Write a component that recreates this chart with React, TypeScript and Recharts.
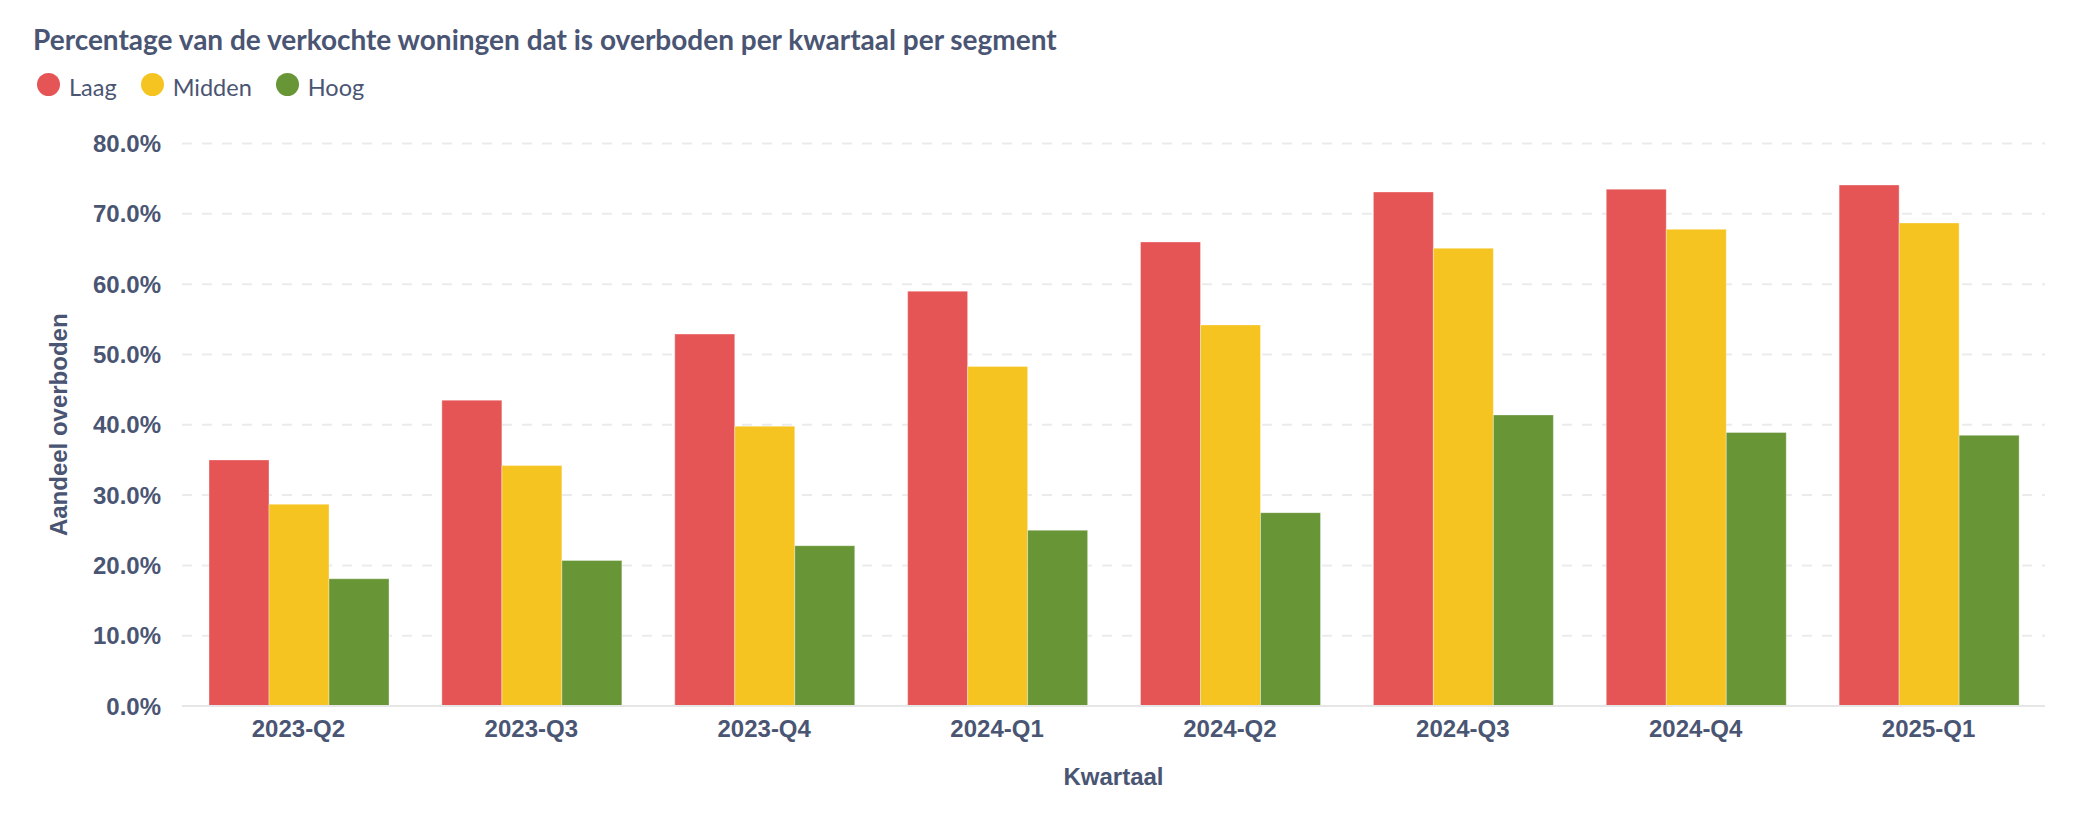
import { BarChart, Bar, XAxis, YAxis, CartesianGrid } from 'recharts';

const quarters = ['2023-Q2', '2023-Q3', '2023-Q4', '2024-Q1', '2024-Q2', '2024-Q3', '2024-Q4', '2025-Q1'];
const laag = [35.0, 43.5, 52.9, 59.0, 66.0, 73.1, 73.5, 74.1];
const midden = [28.7, 34.2, 39.8, 48.3, 54.2, 65.1, 67.8, 68.7];
const hoog = [18.1, 20.7, 22.8, 25.0, 27.5, 41.4, 38.9, 38.5];
const yTicks = [0, 10, 20, 30, 40, 50, 60, 70, 80];

const segments = [
  { key: 'laag', name: 'Laag', color: '#e65555' },
  { key: 'midden', name: 'Midden', color: '#f6c421' },
  { key: 'hoog', name: 'Hoog', color: '#689536' },
];

const textColor = '#4a5573';
const axisFont = '"Liberation Sans", Arial, sans-serif';

const data = quarters.map((q, i) => ({
  kwartaal: q,
  laag: laag[i],
  midden: midden[i],
  hoog: hoog[i],
}));

export default function App() {
  return (
    <div style={{ position: 'absolute', left: 0, top: 0, width: 2096, height: 816, background: '#fff' }}>
      {/* Title */}
      <div
        style={{
          position: 'absolute',
          left: 33,
          top: 25,
          fontFamily: 'Lato, sans-serif',
          fontWeight: 700,
          fontSize: 28,
          lineHeight: '28px',
          color: textColor,
          whiteSpace: 'nowrap',
        }}
      >
        Percentage van de verkochte woningen dat is overboden per kwartaal per segment
      </div>

      {/* Legend */}
      <div
        style={{
          position: 'absolute',
          left: 37,
          top: 75,
          display: 'flex',
          alignItems: 'flex-start',
          gap: 24,
          fontFamily: 'Lato, sans-serif',
          fontSize: 23.5,
          lineHeight: '24px',
          color: textColor,
        }}
      >
        {segments.map((s) => (
          <div key={s.key} style={{ display: 'flex', alignItems: 'flex-start' }}>
            <span
              style={{
                width: 23,
                height: 23,
                borderRadius: '50%',
                background: s.color,
                marginTop: -2,
                marginRight: 9,
                display: 'inline-block',
              }}
            />
            <span>{s.name}</span>
          </div>
        ))}
      </div>

      <BarChart
        width={2096}
        height={816}
        data={data}
        margin={{ top: 143.5, right: 51, bottom: 0, left: 0 }}
        barCategoryGap={27}
        barGap={0}
      >
        <CartesianGrid vertical={false} stroke="#ebebeb" strokeWidth={2} strokeDasharray="10 10" />
        <XAxis
          dataKey="kwartaal"
          height={110}
          tickLine={false}
          tickSize={0}
          tickMargin={14}
          axisLine={{ stroke: '#e6e6e6', strokeWidth: 2 }}
          tick={{ fill: textColor, fontFamily: axisFont, fontWeight: 700, fontSize: 24 }}
          label={(props: any) => {
            const vb = props.viewBox;
            return (
              <text
                x={vb.x + vb.width / 2}
                y={785}
                textAnchor="middle"
                fill={textColor}
                fontFamily={axisFont}
                fontWeight={700}
                fontSize={24}
              >
                Kwartaal
              </text>
            );
          }}
        />
        <YAxis
          width={182}
          domain={[0, 80]}
          ticks={yTicks}
          interval={0}
          axisLine={false}
          tickLine={false}
          tickSize={0}
          tickMargin={21}
          tickFormatter={(v: number) => `${v.toFixed(1)}%`}
          tick={{ fill: textColor, fontFamily: axisFont, fontWeight: 700, fontSize: 24 }}
          label={(props: any) => {
            const vb = props.viewBox;
            const cy = vb.y + vb.height / 2;
            return (
              <text
                x={67}
                y={cy}
                transform={`rotate(-90, 67, ${cy})`}
                textAnchor="middle"
                fill={textColor}
                fontFamily={axisFont}
                fontWeight={700}
                fontSize={24}
              >
                Aandeel overboden
              </text>
            );
          }}
        />
        {segments.map((s) => (
          <Bar
            key={s.key}
            dataKey={s.key}
            name={s.name}
            fill={s.color}
            stroke="#ffffff"
            strokeOpacity={0.35}
            strokeWidth={1}
            isAnimationActive={false}
          />
        ))}
      </BarChart>
    </div>
  );
}
